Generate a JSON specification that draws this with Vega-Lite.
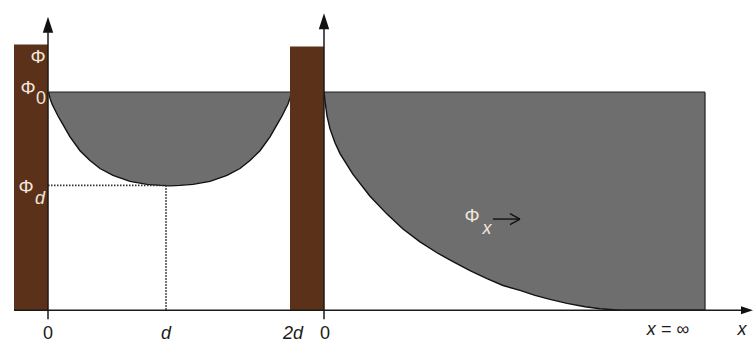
{
  "$schema": "https://vega.github.io/schema/vega-lite/v6.json",
  "width": 753,
  "height": 343,
  "padding": 0,
  "autosize": {"type": "fit", "contains": "padding"},
  "config": {"view": {"stroke": null}, "background": "white"},
  "datasets": {
    "bars": [
      {"x": 14, "x2": 48, "y": 45, "y2": 313},
      {"x": 290, "x2": 324, "y": 47, "y2": 313}
    ],
    "curves": [
      {"g": "a", "x": 48.5, "y": 93}, {"g": "a", "x": 50, "y": 99}, {"g": "a", "x": 52, "y": 105}, {"g": "a", "x": 55, "y": 111},
      {"g": "a", "x": 58, "y": 117}, {"g": "a", "x": 62, "y": 124}, {"g": "a", "x": 66, "y": 131}, {"g": "a", "x": 70, "y": 138},
      {"g": "a", "x": 80, "y": 152}, {"g": "a", "x": 90, "y": 162}, {"g": "a", "x": 100, "y": 170}, {"g": "a", "x": 113, "y": 177},
      {"g": "a", "x": 130, "y": 183}, {"g": "a", "x": 147, "y": 186}, {"g": "a", "x": 160, "y": 187}, {"g": "a", "x": 170, "y": 187.5},
      {"g": "a", "x": 180, "y": 187}, {"g": "a", "x": 193, "y": 186}, {"g": "a", "x": 210, "y": 183}, {"g": "a", "x": 227, "y": 177},
      {"g": "a", "x": 240, "y": 170}, {"g": "a", "x": 250, "y": 162}, {"g": "a", "x": 260, "y": 152}, {"g": "a", "x": 270, "y": 138},
      {"g": "a", "x": 274, "y": 131}, {"g": "a", "x": 278, "y": 124}, {"g": "a", "x": 282, "y": 117}, {"g": "a", "x": 285, "y": 111},
      {"g": "a", "x": 288, "y": 105}, {"g": "a", "x": 290, "y": 99}, {"g": "a", "x": 291.5, "y": 93},
      {"g": "b", "x": 324, "y": 93}, {"g": "b", "x": 325, "y": 102}, {"g": "b", "x": 327, "y": 117}, {"g": "b", "x": 330, "y": 130},
      {"g": "b", "x": 335, "y": 144}, {"g": "b", "x": 340, "y": 155}, {"g": "b", "x": 353, "y": 176}, {"g": "b", "x": 370, "y": 198},
      {"g": "b", "x": 387, "y": 216}, {"g": "b", "x": 403, "y": 231}, {"g": "b", "x": 420, "y": 244}, {"g": "b", "x": 437, "y": 255},
      {"g": "b", "x": 453, "y": 264}, {"g": "b", "x": 470, "y": 273}, {"g": "b", "x": 487, "y": 281}, {"g": "b", "x": 503, "y": 288},
      {"g": "b", "x": 520, "y": 293}, {"g": "b", "x": 535, "y": 298}, {"g": "b", "x": 550, "y": 302}, {"g": "b", "x": 567, "y": 306},
      {"g": "b", "x": 585, "y": 309.5}, {"g": "b", "x": 600, "y": 311.5}, {"g": "b", "x": 620, "y": 313}, {"g": "b", "x": 705, "y": 313}
    ],
    "edges": [
      {"x": 48, "y": 93, "x2": 292, "y2": 93},
      {"x": 324, "y": 93, "x2": 705, "y2": 93},
      {"x": 705, "y": 93, "x2": 705, "y2": 313}
    ],
    "dotted": [
      {"x": 48, "y": 187, "x2": 166, "y2": 187},
      {"x": 166, "y": 187, "x2": 166, "y2": 313}
    ],
    "axes": [
      {"x": 14, "y": 313, "x2": 746, "y2": 313},
      {"x": 48, "y": 322, "x2": 48, "y2": 30},
      {"x": 324, "y": 322, "x2": 324, "y2": 26}
    ]
  },
  "encoding": {
    "x": {"field": "x", "type": "quantitative", "scale": {"domain": [0, 753], "nice": false, "zero": false}, "axis": null},
    "y": {"field": "y", "type": "quantitative", "scale": {"domain": [0, 343], "nice": false, "zero": false, "reverse": true}, "axis": null}
  },
  "layer": [
    {
      "data": {"name": "curves"},
      "mark": {"type": "area", "color": "#6e6e6e", "opacity": 1},
      "encoding": {
        "y": {"field": "y", "type": "quantitative", "stack": null},
        "y2": {"datum": 93},
        "detail": {"field": "g"}
      }
    },
    {
      "data": {"name": "curves"},
      "mark": {"type": "line", "color": "#111111", "strokeWidth": 1.4},
      "encoding": {"detail": {"field": "g"}}
    },
    {
      "data": {"name": "edges"},
      "mark": {"type": "rule", "color": "#2a2a2a", "strokeWidth": 1.3},
      "encoding": {"x2": {"field": "x2"}, "y2": {"field": "y2"}}
    },
    {
      "data": {"name": "bars"},
      "mark": {"type": "rect", "color": "#5b3219"},
      "encoding": {"x2": {"field": "x2"}, "y2": {"field": "y2"}}
    },
    {
      "data": {"name": "dotted"},
      "mark": {"type": "rule", "color": "#333333", "strokeWidth": 1.8, "strokeDash": [1.5, 1.5]},
      "encoding": {"x2": {"field": "x2"}, "y2": {"field": "y2"}}
    },
    {
      "data": {"name": "axes"},
      "mark": {"type": "rule", "color": "#1a1a1a", "strokeWidth": 1.5},
      "encoding": {"x2": {"field": "x2"}, "y2": {"field": "y2"}}
    },
    {
      "data": {"values": [{"x": 48, "y": 25}, {"x": 324, "y": 21.5}]},
      "mark": {"type": "point", "shape": "M0,-1L0.65,1L-0.65,1Z", "filled": true, "color": "#111111", "opacity": 1, "size": 256}
    },
    {
      "data": {"values": [{"x": 747, "y": 313}]},
      "mark": {"type": "point", "shape": "M1,0L-1,-0.65L-1,0.65Z", "filled": true, "color": "#111111", "opacity": 1, "size": 144}
    },
    {
      "data": {"values": [{"x": 493, "x2": 519, "y": 221, "y2": 221}]},
      "mark": {"type": "rule", "color": "#111111", "strokeWidth": 1.4},
      "encoding": {"x2": {"field": "x2"}, "y2": {"field": "y2"}}
    },
    {
      "data": {"values": [{"x": 520, "y": 221}]},
      "mark": {"type": "point", "shape": "M0,0L-2,-1.1M0,0L-2,1.1", "filled": false, "color": "#111111", "strokeWidth": 1.4, "opacity": 1, "size": 100}
    },
    {
      "data": {"values": [
        {"x": 38, "y": 57, "t": "Φ"},
        {"x": 28, "y": 89, "t": "Φ"},
        {"x": 26, "y": 189, "t": "Φ"},
        {"x": 472, "y": 218, "t": "Φ"}
      ]},
      "mark": {"type": "text", "font": "Liberation Sans", "fontSize": 19, "color": "#f2e6dc", "align": "center", "baseline": "middle"},
      "encoding": {"text": {"field": "t"}}
    },
    {
      "data": {"values": [
        {"x": 41, "y": 100, "t": "0"}
      ]},
      "mark": {"type": "text", "font": "Liberation Sans", "fontSize": 18, "color": "#f2e6dc", "align": "center", "baseline": "middle"},
      "encoding": {"text": {"field": "t"}}
    },
    {
      "data": {"values": [
        {"x": 40, "y": 201, "t": "d"},
        {"x": 487, "y": 231, "t": "x"}
      ]},
      "mark": {"type": "text", "font": "Liberation Sans", "fontSize": 18, "fontStyle": "italic", "color": "#f2e6dc", "align": "center", "baseline": "middle"},
      "encoding": {"text": {"field": "t"}}
    },
    {
      "data": {"values": [
        {"x": 48, "y": 342, "t": "0"},
        {"x": 325, "y": 342, "t": "0"}
      ]},
      "mark": {"type": "text", "font": "Liberation Sans", "fontSize": 18, "color": "#1a1a1a", "align": "center", "baseline": "alphabetic"},
      "encoding": {"text": {"field": "t"}}
    },
    {
      "data": {"values": [
        {"x": 166, "y": 342, "t": "d"},
        {"x": 293, "y": 342, "t": "2d"},
        {"x": 668, "y": 338, "t": "x = ∞"},
        {"x": 742, "y": 338, "t": "x"}
      ]},
      "mark": {"type": "text", "font": "Liberation Sans", "fontSize": 18, "fontStyle": "italic", "color": "#1a1a1a", "align": "center", "baseline": "alphabetic"},
      "encoding": {"text": {"field": "t"}}
    }
  ]
}
